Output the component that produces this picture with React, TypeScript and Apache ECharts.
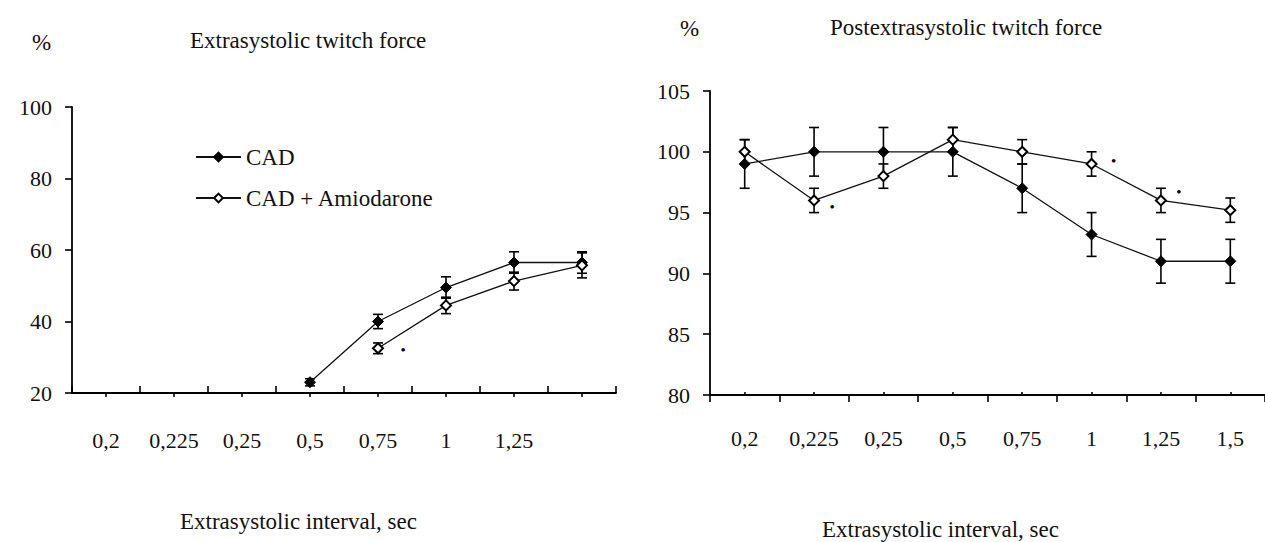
import React, { useEffect, useRef } from "react";
import * as echarts from "echarts";

// ---- data ----
const leftCategories = ["0,2", "0,225", "0,25", "0,5", "0,75", "1", "1,25", ""];
const rightCategories = ["0,2", "0,225", "0,25", "0,5", "0,75", "1", "1,25", "1,5"];

const leftCad = [null, null, null, 23, 40, 49.5, 56.5, 56.5];
const leftCadErr = [null, null, null, 1, 2, 3, 3, 3];
const leftAmio = [null, null, null, null, 32.5, 44.5, 51.3, 55.7];
const leftAmioErr = [null, null, null, null, 1.5, 2.3, 2.5, 3.5];
const leftSignificant = [4];

const rightCad = [99, 100, 100, 100, 97, 93.2, 91, 91];
const rightCadErr = [2, 2, 2, 2, 2, 1.8, 1.8, 1.8];
const rightAmio = [100, 96, 98, 101, 100, 99, 96, 95.2];
const rightAmioErr = [1, 1, 1, 1, 1, 1, 1, 1];
const rightSignificant = [1, 5, 6];

const leftYTicks = { min: 20, max: 100, interval: 20 };
const rightYTicks = { min: 80, max: 105, interval: 5 };

const SERIF = "'Liberation Serif', 'Times New Roman', serif";
const INK = "#111";

function errData(vals: (number | null)[], errs: (number | null)[]) {
  const out: number[][] = [];
  vals.forEach((v, i) => {
    const e = errs[i];
    if (v != null && e != null) out.push([i, v - e, v + e]);
  });
  return out;
}

function errSeries(data: number[][], xi: number, yi: number) {
  return {
    type: "custom",
    xAxisIndex: xi,
    yAxisIndex: yi,
    z: 1,
    silent: true,
    encode: { x: 0, y: [1, 2] },
    data,
    renderItem: (params: any, api: any) => {
      const x = api.value(0);
      const top = api.coord([x, api.value(2)]);
      const bot = api.coord([x, api.value(1)]);
      const w = 5;
      const st = { stroke: "#000", lineWidth: 1.6 };
      return {
        type: "group",
        children: [
          { type: "line", shape: { x1: top[0], y1: top[1], x2: bot[0], y2: bot[1] }, style: st },
          { type: "line", shape: { x1: top[0] - w, y1: top[1], x2: top[0] + w, y2: top[1] }, style: st },
          { type: "line", shape: { x1: bot[0] - w, y1: bot[1], x2: bot[0] + w, y2: bot[1] }, style: st },
        ],
      };
    },
  };
}

function withStars(vals: (number | null)[], sig: number[], offsets: number[][]) {
  return vals.map((v, i) => {
    const k = sig.indexOf(i);
    if (v == null || k < 0) return v;
    return {
      value: v,
      label: {
        show: true,
        formatter: "\u2022",
        position: "inside",
        offset: offsets[k],
        color: "#000",
        fontSize: 15,
        fontFamily: SERIF,
      },
    };
  });
}

function lineSeries(name: string, data: any[], xi: number, yi: number, filled: boolean) {
  return {
    name,
    type: "line",
    xAxisIndex: xi,
    yAxisIndex: yi,
    z: 3,
    data,
    connectNulls: false,
    symbol: "diamond",
    symbolSize: filled ? 11 : 10,
    showAllSymbol: true,
    lineStyle: { color: INK, width: 1.3 },
    itemStyle: filled
      ? { color: "#000", borderColor: "#000", borderWidth: 1 }
      : { color: "#fff", borderColor: "#000", borderWidth: 2 },
  };
}

function catAxis(gridIndex: number, data: string[], mode: "boundary" | "center", inside: boolean, len: number, labelMargin: number) {
  return {
    type: "category",
    gridIndex,
    data,
    position: "bottom",
    offset: 0,
    boundaryGap: true,
    axisLine: mode === "boundary" ? { show: true, lineStyle: { color: "#000", width: 1.8 } } : { show: false },
    axisTick: {
      show: true,
      alignWithLabel: mode === "center",
      interval: 0,
      inside,
      length: len,
      lineStyle: { color: "#000", width: 1.6 },
    },
    axisLabel:
      mode === "boundary"
        ? { show: true, interval: 0, margin: labelMargin, color: INK, fontFamily: SERIF, fontSize: 22 }
        : { show: false },
    splitLine: { show: false },
  };
}

function valAxis(gridIndex: number, t: { min: number; max: number; interval: number }) {
  return {
    type: "value",
    gridIndex,
    min: t.min,
    max: t.max,
    interval: t.interval,
    axisLine: { show: true, lineStyle: { color: "#000", width: 1.8 } },
    axisTick: { show: true, inside: false, length: 7, lineStyle: { color: "#000", width: 1.6 } },
    axisLabel: { margin: 20, color: INK, fontFamily: SERIF, fontSize: 22 },
    splitLine: { show: false },
  };
}

function txt(text: string, x: number, y: number, size = 23) {
  return {
    type: "text",
    x,
    y,
    style: { text, fill: INK, font: `${size}px ${SERIF}`, textVerticalAlign: "middle" },
  };
}

export default function App() {
  const ref = useRef<HTMLDivElement>(null);
  useEffect(() => {
    if (!ref.current) return;
    const chart = echarts.init(ref.current, undefined, { renderer: "svg" });
    const option: any = {
      animation: false,
      backgroundColor: "#fff",
      grid: [
        { left: 72, top: 107, width: 544, height: 286 },
        { left: 710, top: 91, width: 557, height: 304 },
      ],
      xAxis: [
        catAxis(0, leftCategories, "boundary", true, 7, 36),
        catAxis(0, leftCategories, "center", false, 4, 36),
        catAxis(1, rightCategories, "boundary", false, 7, 32),
        catAxis(1, rightCategories, "center", true, 3, 32),
      ],
      yAxis: [valAxis(0, leftYTicks), valAxis(1, rightYTicks)],
      legend: {
        orient: "vertical",
        left: 190,
        top: 140,
        itemWidth: 45,
        itemHeight: 11,
        itemGap: 17,
        data: ["CAD", "CAD + Amiodarone"],
        textStyle: { color: INK, fontFamily: SERIF, fontSize: 23, lineHeight: 24 },
        selectedMode: false,
      },
      series: [
        errSeries(errData(leftCad, leftCadErr), 0, 0),
        errSeries(errData(leftAmio, leftAmioErr), 0, 0),
        lineSeries("CAD", leftCad, 0, 0, true),
        lineSeries("CAD + Amiodarone", withStars(leftAmio, leftSignificant, [[25, 2]]), 0, 0, false),
        errSeries(errData(rightCad, rightCadErr), 2, 1),
        errSeries(errData(rightAmio, rightAmioErr), 2, 1),
        lineSeries("CAD", rightCad, 2, 1, true),
        lineSeries(
          "CAD + Amiodarone",
          withStars(rightAmio, rightSignificant, [[18, 7], [22, -3], [18, -8]]),
          2,
          1,
          false
        ),
      ],
      graphic: [
        txt("%", 32, 42),
        txt("Extrasystolic twitch force", 190, 40),
        txt("%", 680, 28),
        txt("Postextrasystolic twitch force", 830, 27),
        txt("Extrasystolic interval, sec", 180, 521),
        txt("Extrasystolic interval, sec", 822, 529),
      ],
    };
    chart.setOption(option);
    return () => chart.dispose();
  }, []);
  return (
    <div
      ref={ref}
      style={{ position: "fixed", left: 0, top: 0, width: 1265, height: 542, background: "#fff" }}
    />
  );
}
